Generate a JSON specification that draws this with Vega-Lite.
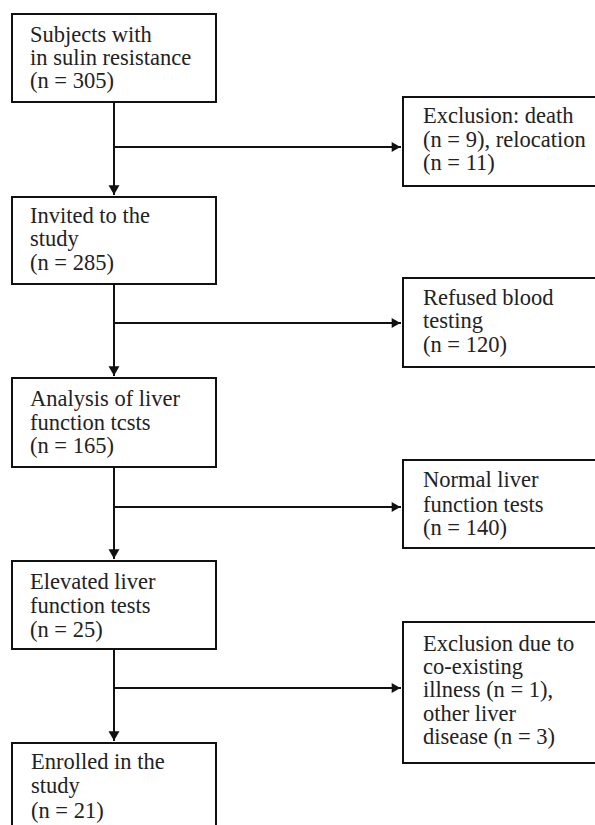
{
  "$schema": "https://vega.github.io/schema/vega-lite/v6.json",
  "width": 595,
  "height": 825,
  "autosize": {"type": "fit", "contains": "padding"},
  "padding": 0,
  "background": "white",
  "view": {"stroke": null},
  "config": {"text": {"font": "Liberation Serif"}},
  "datasets": {
    "boxes": [
      {"id": "L1", "x1": 12, "x2": 216, "y1": 14, "y2": 102},
      {"id": "L2", "x1": 12, "x2": 216, "y1": 197, "y2": 284},
      {"id": "L3", "x1": 12, "x2": 216, "y1": 378, "y2": 467},
      {"id": "L4", "x1": 12, "x2": 216, "y1": 561, "y2": 649},
      {"id": "L5", "x1": 12, "x2": 216, "y1": 743, "y2": 840},
      {"id": "R1", "x1": 403, "x2": 610, "y1": 97, "y2": 186},
      {"id": "R2", "x1": 403, "x2": 610, "y1": 278, "y2": 367},
      {"id": "R3", "x1": 403, "x2": 610, "y1": 460, "y2": 548},
      {"id": "R4", "x1": 403, "x2": 610, "y1": 622, "y2": 763}
    ],
    "lines": [
      {"x1": 114, "x2": 114, "y1": 102, "y2": 195},
      {"x1": 114, "x2": 114, "y1": 284, "y2": 376},
      {"x1": 114, "x2": 114, "y1": 467, "y2": 559},
      {"x1": 114, "x2": 114, "y1": 649, "y2": 741},
      {"x1": 114, "x2": 401, "y1": 147, "y2": 147},
      {"x1": 114, "x2": 401, "y1": 323, "y2": 323},
      {"x1": 114, "x2": 401, "y1": 507, "y2": 507},
      {"x1": 114, "x2": 401, "y1": 688, "y2": 688}
    ],
    "heads": [
      {"x": 114, "y": 190, "dir": "down"},
      {"x": 114, "y": 371, "dir": "down"},
      {"x": 114, "y": 554, "dir": "down"},
      {"x": 114, "y": 736, "dir": "down"},
      {"x": 396, "y": 147, "dir": "right"},
      {"x": 396, "y": 323, "dir": "right"},
      {"x": 396, "y": 507, "dir": "right"},
      {"x": 396, "y": 688, "dir": "right"}
    ],
    "labels": [
      {"x": 30, "y": 42, "text": "Subjects with"},
      {"x": 30, "y": 65, "text": "in sulin resistance"},
      {"x": 30, "y": 88, "text": "(n = 305)"},
      {"x": 30, "y": 223, "text": "Invited to the"},
      {"x": 30, "y": 246, "text": "study"},
      {"x": 30, "y": 270, "text": "(n = 285)"},
      {"x": 30, "y": 406, "text": "Analysis of liver"},
      {"x": 30, "y": 430, "text": "function tcsts"},
      {"x": 30, "y": 453, "text": "(n = 165)"},
      {"x": 30, "y": 589, "text": "Elevated liver"},
      {"x": 30, "y": 613, "text": "function tests"},
      {"x": 30, "y": 637, "text": "(n = 25)"},
      {"x": 31, "y": 769, "text": "Enrolled in the"},
      {"x": 31, "y": 793, "text": "study"},
      {"x": 31, "y": 818, "text": "(n = 21)"},
      {"x": 423, "y": 123, "text": "Exclusion: death"},
      {"x": 423, "y": 147, "text": "(n = 9), relocation"},
      {"x": 423, "y": 170, "text": "(n = 11)"},
      {"x": 423, "y": 305, "text": "Refused blood"},
      {"x": 423, "y": 328, "text": "testing"},
      {"x": 423, "y": 352, "text": "(n = 120)"},
      {"x": 423, "y": 487, "text": "Normal liver"},
      {"x": 423, "y": 512, "text": "function tests"},
      {"x": 423, "y": 535, "text": "(n = 140)"},
      {"x": 423, "y": 651, "text": "Exclusion due to"},
      {"x": 423, "y": 674, "text": "co-existing"},
      {"x": 423, "y": 697, "text": "illness (n = 1),"},
      {"x": 423, "y": 721, "text": "other liver"},
      {"x": 423, "y": 744, "text": "disease (n = 3)"}
    ]
  },
  "layer": [
    {
      "data": {"name": "boxes"},
      "mark": {"type": "rect", "fill": "white", "stroke": "#111111", "strokeWidth": 2, "clip": true},
      "encoding": {
        "x": {"field": "x1", "type": "quantitative", "scale": {"domain": [0, 595], "nice": false, "zero": false}, "axis": null},
        "x2": {"field": "x2"},
        "y": {"field": "y1", "type": "quantitative", "scale": {"domain": [0, 825], "nice": false, "zero": false, "reverse": true}, "axis": null},
        "y2": {"field": "y2"}
      }
    },
    {
      "data": {"name": "lines"},
      "mark": {"type": "rule", "stroke": "#111111", "strokeWidth": 2},
      "encoding": {
        "x": {"field": "x1", "type": "quantitative"},
        "x2": {"field": "x2"},
        "y": {"field": "y1", "type": "quantitative"},
        "y2": {"field": "y2"}
      }
    },
    {
      "data": {"name": "heads"},
      "transform": [{"filter": "datum.dir === 'down'"}],
      "mark": {"type": "point", "shape": "triangle-down", "filled": true, "color": "#111111", "size": 120, "opacity": 1},
      "encoding": {
        "x": {"field": "x", "type": "quantitative"},
        "y": {"field": "y", "type": "quantitative"}
      }
    },
    {
      "data": {"name": "heads"},
      "transform": [{"filter": "datum.dir === 'right'"}],
      "mark": {"type": "point", "shape": "triangle-right", "filled": true, "color": "#111111", "size": 100, "opacity": 1},
      "encoding": {
        "x": {"field": "x", "type": "quantitative"},
        "y": {"field": "y", "type": "quantitative"}
      }
    },
    {
      "data": {"name": "labels"},
      "mark": {"type": "text", "align": "left", "baseline": "alphabetic", "fontSize": 22.5, "font": "Liberation Serif", "color": "#222222"},
      "encoding": {
        "x": {"field": "x", "type": "quantitative"},
        "y": {"field": "y", "type": "quantitative"},
        "text": {"field": "text"}
      }
    }
  ]
}
